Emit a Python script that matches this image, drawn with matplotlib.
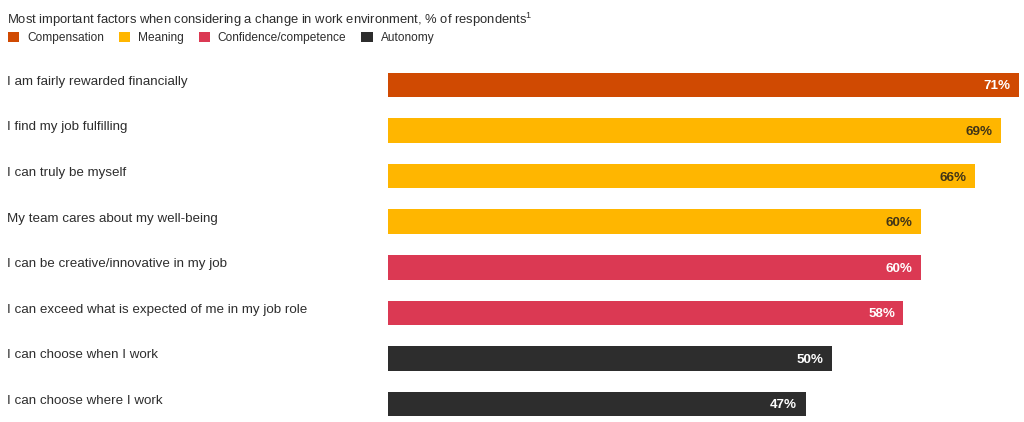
import matplotlib.pyplot as plt
import matplotlib.transforms as mtransforms
from matplotlib.patches import Patch

plt.rcParams['font.family'] = ['Liberation Sans', 'DejaVu Sans']
plt.rcParams['mathtext.fontset'] = 'custom'
plt.rcParams['mathtext.rm'] = 'Liberation Sans'

# data
labels = [
    "I am fairly rewarded financially",
    "I find my job fulfilling",
    "I can truly be myself",
    "My team cares about my well-being",
    "I can be creative/innovative in my job",
    "I can exceed what is expected of me in my job role",
    "I can choose when I work",
    "I can choose where I work",
]
values = [71, 69, 66, 60, 60, 58, 50, 47]
groups = ["Compensation", "Meaning", "Meaning", "Meaning",
          "Confidence/competence", "Confidence/competence",
          "Autonomy", "Autonomy"]

group_names = ["Compensation", "Meaning", "Confidence/competence", "Autonomy"]
group_colors = {"Compensation": "#D04A02", "Meaning": "#FFB600",
                "Confidence/competence": "#DB3953", "Autonomy": "#2D2D2D"}
text_colors = {"Compensation": "white", "Meaning": "#403418",
               "Confidence/competence": "white", "Autonomy": "white"}

W, H = 1024, 422
fig = plt.figure(figsize=(W / 100, H / 100), dpi=100)
ax = fig.add_axes([388 / W, 0, 636 / W, 360 / H])

ypos = list(range(len(labels)))
colors = [group_colors[g] for g in groups]
ax.barh(ypos, values, height=0.54, color=colors)
ax.set_xlim(0, 636 / 8.887)
ax.set_ylim(7 + 18 / 45.6, -23 / 45.6)
ax.axis('off')

for y, v, g in zip(ypos, values, groups):
    ax.text(v - 0.95, y + 0.03, f"{v}%", ha='right', va='center',
            fontsize=9.6, fontweight='bold', color=text_colors[g])

trans = mtransforms.blended_transform_factory(fig.transFigure, ax.transData)
for y, lab in zip(ypos, labels):
    ax.text(7 / W, y - 0.07, lab, transform=trans, ha='left', va='center',
            fontsize=9.6, color='#2d2d2d')

fig.text(7 / W, 1 - 20 / H,
         "Most important factors when considering a change in work environment, % of respondents$^{1}$",
         ha='left', va='center', fontsize=9.4, color='#2d2d2d')

handles = [Patch(facecolor=group_colors[n], label=n) for n in group_names]
fig.legend(handles=handles, loc='center left', bbox_to_anchor=(8 / W, 1 - 38 / H),
           ncol=4, frameon=False, fontsize=8.6, handlelength=0.95, handleheight=0.95,
           handletextpad=0.65, columnspacing=1.25, borderaxespad=0, borderpad=0,
           labelcolor='#2d2d2d')

fig.savefig("out.png", dpi=100)
